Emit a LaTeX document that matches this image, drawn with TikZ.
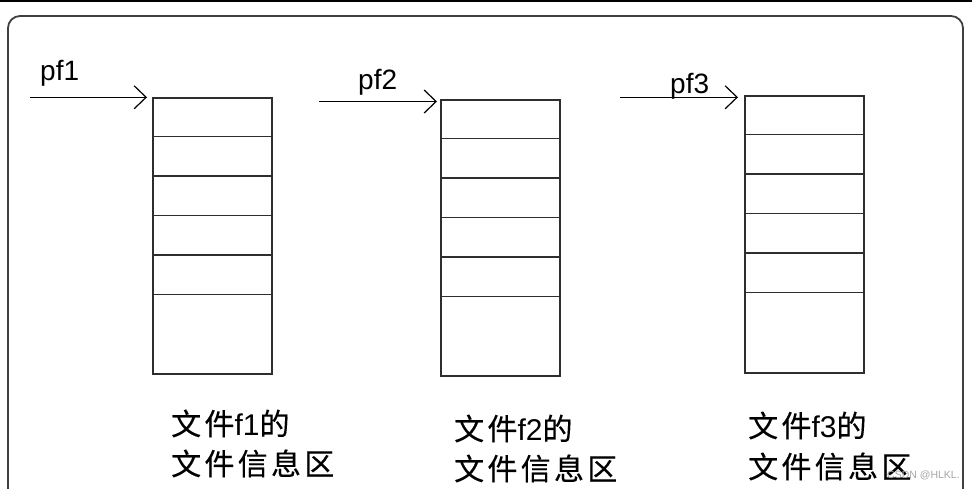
\documentclass[tikz,border=0pt]{standalone}
\usepackage{fontspec}
\setmainfont{Liberation Sans}
\newfontfamily\cjk[LetterSpace=11,FakeBold=0.4]{Noto Sans CJK SC}
\usetikzlibrary{arrows.meta}
\definecolor{lineg}{HTML}{2E2E2E}
\definecolor{frameg}{HTML}{404040}
\tikzset{
  filebox/.style={draw=lineg, line width=1.7pt, rectangle, minimum width=119pt, inner sep=0pt, anchor=north west},
  cellline/.style={draw=lineg, line width=1.7pt},
  ptr/.style={draw=black, line width=1.2pt, -{Straight Barb[length=12pt,width=23pt,line width=1.2pt]}},
  ptrlabel/.style={anchor=base west, inner sep=0pt, font=\fontsize{28}{30}\selectfont},
  desc/.style={anchor=base west, inner sep=0pt, font=\fontsize{30}{32}\selectfont},
}
\begin{document}
\begin{tikzpicture}[x=1pt,y=-1pt]
\useasboundingbox (0,0) rectangle (972,488);
\clip (0,0) rectangle (972,488);
\fill[white] (0,0) rectangle (972,488);
% top rule and frame
\draw[black, line width=2.4pt] (0,1.2) -- (972,1.2);
\draw[frameg, line width=1.8pt, rounded corners=12pt] (8,520) -- (8,16) -- (963,16) -- (963,520);
% boxes
\node[filebox, minimum height=276pt] (b1) at (152,97) {};
\node[filebox, minimum height=276pt] (b2) at (440,99) {};
\node[filebox, minimum height=277pt] (b3) at (744,95) {};
\foreach \b in {b1,b2,b3}{
  \foreach \d in {39.5,79,118.5,158,197.5}{
    \draw[cellline] ([yshift=-\d pt]\b.north west) -- ([yshift=-\d pt]\b.north east);
  }
}
% pointers
\coordinate (s1) at (30,97.3);  \coordinate (t1) at (147,97.3);
\coordinate (s2) at (319,101.5); \coordinate (t2) at (437,101.5);
\coordinate (s3) at (620,97.3); \coordinate (t3) at (738,97.3);
\draw[ptr] (s1) -- (t1);
\draw[ptr] (s2) -- (t2);
\draw[ptr] (s3) -- (t3);
\node[ptrlabel] (p1) at (40,80) {pf1};
\node[ptrlabel] (p2) at (358,89) {pf2};
\node[ptrlabel] (p3) at (670,93) {pf3};
% descriptions
\node[desc] (d1a) at (171,435) {{\cjk 文件}f1{\cjk 的}};
\node[desc] (d1b) at (171,475) {\cjk 文件信息区};
\node[desc] (d2a) at (454,440) {{\cjk 文件}f2{\cjk 的}};
\node[desc] (d2b) at (454,480) {\cjk 文件信息区};
\node[desc] (d3a) at (748,437) {{\cjk 文件}f3{\cjk 的}};
\node[desc] (d3b) at (748,478) {\cjk 文件信息区};
% watermark
\node[anchor=base west, inner sep=0pt, text=black!35, font=\fontsize{10.5}{12}\selectfont] (wm) at (887,478) {CSDN @HLKL.};
\end{tikzpicture}
\end{document}
